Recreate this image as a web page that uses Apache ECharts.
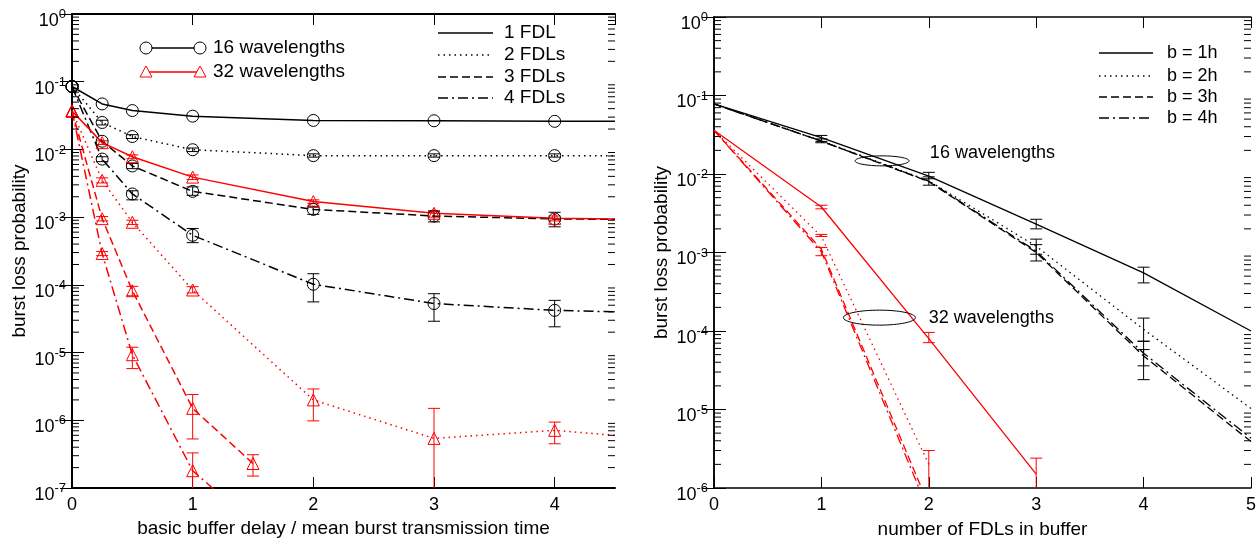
<!DOCTYPE html>
<html><head><meta charset="utf-8">
<script src="https://cdn.jsdelivr.net/npm/echarts@6/dist/echarts.min.js"></script>
<style>html,body{margin:0;padding:0;background:#fff}#c{width:1259px;height:544px}</style>
</head><body><div id="c"></div>
<script>
// ---------------- Left panel data ----------------
const xLeft = [0, 0.25, 0.5, 1, 2, 3, 4, 4.5];
const w16_fdl1 = [0.085, 0.047, 0.0375, 0.031, 0.0268, 0.0265, 0.026, 0.026];
const w16_fdl2 = [0.085, 0.025, 0.0155, 0.0099, 0.0081, 0.0081, 0.0081, 0.0081];
const w16_fdl3 = [0.085, 0.0132, 0.0057, 0.0024, 0.0013, 0.00104, 0.00094, 0.00093];
const w16_fdl4 = [0.085, 0.0072, 0.0022, 0.00054, 0.000102, 0.000053, 0.000042, 0.00004];
const w32_fdl1 = [0.037, 0.0126, 0.0078, 0.0039, 0.0017, 0.00114, 0.00096, 0.00094];
const w32_fdl2 = [0.037, 0.0035, 0.00084, 8.4e-5, 2.0e-6, 5.4e-7, 7.1e-7, 6.0e-7];
const xLeftShort = [0, 0.25, 0.5, 1, 1.5];
const w32_fdl3 = [0.037, 0.00095, 8.2e-5, 1.5e-6, 2.3e-7];
const w32_fdl4 = [0.037, 0.00029, 9.3e-6, 1.8e-7, 3e-8];
// error bars [x, low, high]
const err16Left = [
  [0.25, 0.023, 0.027], [0.5, 0.0145, 0.0165], [1, 0.0093, 0.0105], [2, 0.0077, 0.0086], [3, 0.0077, 0.0086], [4, 0.0077, 0.0086],
  [0.5, 0.0052, 0.0062], [1, 0.0021, 0.0028], [2, 0.0011, 0.00145], [3, 0.00085, 0.0012], [4, 0.00072, 0.00118],
  [0.25, 0.0066, 0.0078], [0.5, 0.0018, 0.00245], [1, 0.00042, 0.00068], [2, 5.6e-5, 1.46e-4], [3, 2.9e-5, 7.4e-5], [4, 2.4e-5, 5.9e-5]
];
const err32Left = [
  [0.25, 0.0118, 0.0134], [0.5, 0.0073, 0.0083], [1, 0.0036, 0.0042], [2, 0.0016, 0.0018], [3, 0.00100, 0.00125], [4, 0.00088, 0.00104],
  [0.25, 0.0032, 0.0038], [0.5, 0.00078, 0.0009], [1, 7.6e-5, 9.4e-5], [2, 9.8e-7, 2.9e-6], [3, 5e-8, 1.5e-6], [4, 4.5e-7, 9.4e-7],
  [0.25, 0.00088, 0.00102], [0.5, 6.9e-5, 9.5e-5], [1, 5.3e-7, 2.4e-6], [1.5, 1.5e-7, 3.1e-7],
  [0.25, 0.00027, 0.00031], [0.5, 5.8e-6, 1.2e-5], [1, 5e-8, 3.3e-7]
];
const xTicksLeft = [0, 1, 2, 3, 4];
const yExpLeft = [-7, -6, -5, -4, -3, -2, -1, 0];

// ---------------- Right panel data ----------------
const xRight = [0, 1, 2, 3, 4, 5];
const w16_b1 = [0.078, 0.029, 0.0094, 0.0023, 0.00055, 0.0001];
const w16_b2 = [0.078, 0.0265, 0.0082, 0.0012, 1.05e-4, 1.03e-5];
const w16_b3 = [0.078, 0.0262, 0.0080, 0.00100, 4.8e-5, 3.9e-6];
const w16_b4 = [0.078, 0.0262, 0.0081, 0.00104, 5.2e-5, 4.3e-6];
const xRight32_b1 = [0, 1, 2, 3];
const w32_b1 = [0.036, 0.0038, 8.0e-5, 1.5e-6];
const xRight32 = [0, 1, 2];
const w32_b2 = [0.036, 0.0016, 2.0e-6];
const w32_b3 = [0.036, 0.0011, 6.0e-7];
const w32_b4 = [0.036, 0.00102, 5.0e-7];
const err16Right = [
  [1, 0.026, 0.031], [1, 0.025, 0.028], [2, 0.0087, 0.0105], [2, 0.0072, 0.0092],
  [3, 0.002, 0.00265], [3, 0.00095, 0.00148], [3, 0.00078, 0.00126],
  [4, 0.00041, 0.00065], [4, 7.4e-5, 1.46e-4], [4, 2.4e-5, 5.8e-5], [4, 3.6e-5, 7.4e-5]
];
const err32Right = [
  [1, 0.0036, 0.0040], [2, 7.1e-5, 9.6e-5], [3, 5e-7, 2.4e-6],
  [1, 0.0016, 0.0017], [2, 5e-7, 3.0e-6],
  [1, 0.00091, 0.00116]
];
const xTicksRight = [0, 1, 2, 3, 4, 5];
const yExpRight = [-6, -5, -4, -3, -2, -1, 0];

// ---------------- styles ----------------
const FONT = "'Liberation Sans', Arial, sans-serif";
const RED = '#ff0000', BLACK = '#000000';
const DOT = [1.5, 4], DASH = [8, 4], DASHDOT = [10, 4, 2, 4];

function toData(xs, ys, sym) {
  return xs.map((x, i) => ({ value: [x, ys[i]], symbol: x > 4 ? 'none' : sym }));
}
function lineSeries(xs, ys, color, dash, sym, xi, yi, lw) {
  return {
    type: 'line', xAxisIndex: xi, yAxisIndex: yi, data: sym ? toData(xs, ys, sym) : xs.map((x, i) => [x, ys[i]]),
    symbol: sym || 'none', symbolSize: 12, showSymbol: !!sym,
    lineStyle: { color: color, width: lw, type: dash },
    itemStyle: { color: 'rgba(255,255,255,0)', borderColor: color, borderWidth: 1 },
    silent: true, animation: false, z: 3
  };
}
function errSeries(data, color, xi, yi, hw) {
  return {
    type: 'custom', xAxisIndex: xi, yAxisIndex: yi, data: data, clip: true, silent: true, animation: false, z: 2,
    dimensions: ['x', 'lo', 'hi'], encode: { x: 0, y: [1, 2] },
    renderItem: function (params, api) {
      const p1 = api.coord([api.value(0), api.value(1)]);
      const p2 = api.coord([api.value(0), api.value(2)]);
      const st = { stroke: color, lineWidth: 1, fill: null };
      return { type: 'group', children: [
        { type: 'line', shape: { x1: p1[0], y1: p1[1], x2: p2[0], y2: p2[1] }, style: st },
        { type: 'line', shape: { x1: p1[0] - hw, y1: p1[1], x2: p1[0] + hw, y2: p1[1] }, style: st },
        { type: 'line', shape: { x1: p2[0] - hw, y1: p2[1], x2: p2[0] + hw, y2: p2[1] }, style: st }
      ] };
    }
  };
}
const richLab = {
  b: { fontSize: 18, fontFamily: FONT, color: '#000', verticalAlign: 'bottom', lineHeight: 22 },
  s: { fontSize: 13, fontFamily: FONT, color: '#000', verticalAlign: 'top', lineHeight: 22 }
};
function yAx(grid, pos, min, show, lw, name, gap) {
  return {
    type: 'log', logBase: 10, gridIndex: grid, position: pos, min: min, max: 1, interval: 1,
    axisLine: { show: true, lineStyle: { color: '#000', width: lw } },
    axisTick: { show: true, inside: true, length: 12, lineStyle: { color: '#000', width: 1 } },
    axisLabel: { show: show, margin: 6, padding: [10, 0, 0, 0], formatter: v => '{b|10}{s|' + Math.round(Math.log10(v)) + '}', rich: richLab },
    splitLine: { show: false }, minorTick: { show: false },
    name: show ? name : '', nameLocation: 'middle', nameGap: gap,
    nameTextStyle: { fontSize: 19, fontFamily: FONT, color: '#000' }
  };
}
function xAx(grid, pos, max, show, lw, name, gap, showMax) {
  return {
    type: 'value', gridIndex: grid, position: pos, min: 0, max: max, interval: 1,
    axisLine: { show: true, onZero: false, lineStyle: { color: '#000', width: lw } },
    axisTick: { show: true, inside: true, length: 11, lineStyle: { color: '#000', width: 1 } },
    axisLabel: { show: show, margin: 8, fontSize: 18, fontFamily: FONT, color: '#000', showMaxLabel: showMax,
      formatter: v => (Math.abs(v - Math.round(v)) < 1e-9 ? String(Math.round(v)) : '') },
    splitLine: { show: false },
    name: show ? name : '', nameLocation: 'middle', nameGap: gap,
    nameTextStyle: { fontSize: 19, fontFamily: FONT, color: '#000' }
  };
}
function annot(x, y, rx, ry, text, tx, ty) {
  return { x: x, y: y, rx: rx, ry: ry, text: text, tx: tx, ty: ty };
}
const annotations = [
  annot(1.565, 0.0147, 27, 5, '16 wavelengths', 2.01, 0.0187),
  annot(1.54, 1.48e-4, 36, 7.5, '32 wavelengths', 2.0, 1.46e-4)
];
const annotSeries = {
  type: 'custom', xAxisIndex: 2, yAxisIndex: 2, silent: true, animation: false, z: 6, clip: false,
  dimensions: ['x', 'y'], encode: { x: 0, y: 1 },
  data: annotations.map(a => [a.x, a.y]),
  renderItem: function (params, api) {
    const a = annotations[params.dataIndex];
    const c = api.coord([a.x, a.y]);
    const t = api.coord([a.tx, a.ty]);
    return { type: 'group', children: [
      { type: 'ellipse', shape: { cx: c[0], cy: c[1], rx: a.rx, ry: a.ry }, style: { stroke: '#000', fill: null, lineWidth: 1 } },
      { type: 'text', x: t[0], y: t[1], style: { text: a.text, font: '18px ' + FONT, fill: '#000', textAlign: 'left', textVerticalAlign: 'middle' } }
    ] };
  }
};

// legends (graphic)
function legLine(x1, x2, y, color, dash, lw) {
  return { type: 'line', shape: { x1: x1, y1: y, x2: x2, y2: y }, style: { stroke: color, lineWidth: lw, lineDash: dash || null } };
}
function legText(x, y, t, size) {
  return { type: 'text', x: x, y: y, style: { text: t, font: size + 'px ' + FONT, fill: '#000', textVerticalAlign: 'middle' } };
}
function circ(cx, cy) { return { type: 'circle', shape: { cx: cx, cy: cy, r: 6 }, style: { stroke: '#000', fill: '#fff', lineWidth: 1 } }; }
function tri(cx, cy) { return { type: 'polygon', shape: { points: [[cx, cy - 6], [cx - 6, cy + 5], [cx + 6, cy + 5]] }, style: { stroke: RED, fill: '#fff', lineWidth: 1 } }; }
const graphics = [
  legLine(146, 200, 48, BLACK, null, 1.5), circ(146, 48), circ(200, 48), legText(213, 48, '16 wavelengths', 19),
  legLine(146, 200, 72, RED, null, 1.5), tri(146, 72), tri(200, 72), legText(213, 72, '32 wavelengths', 19),
  legLine(438, 493, 33, BLACK, null, 1.5), legText(504, 33, '1 FDL', 19),
  legLine(438, 493, 55, BLACK, DOT, 1.5), legText(504, 55, '2 FDLs', 19),
  legLine(438, 493, 77, BLACK, DASH, 1.5), legText(504, 77, '3 FDLs', 19),
  legLine(438, 493, 98, BLACK, DASHDOT, 1.5), legText(504, 98, '4 FDLs', 19),
  legLine(1099, 1153, 53, BLACK, null, 1.3), legText(1167, 53, 'b = 1h', 18),
  legLine(1099, 1153, 76, BLACK, DOT, 1.3), legText(1167, 76, 'b = 2h', 18),
  legLine(1099, 1153, 97, BLACK, DASH, 1.3), legText(1167, 97, 'b = 3h', 18),
  legLine(1099, 1153, 118, BLACK, DASHDOT, 1.3), legText(1167, 118, 'b = 4h', 18)
];

const option = {
  backgroundColor: '#fff',
  animation: false,
  grid: [
    { left: 72, top: 14, width: 543, height: 474 },
    { left: 714, top: 17, width: 538, height: 473 }
  ],
  xAxis: [
    xAx(0, 'bottom', 4.5, true, 2, 'basic buffer delay / mean burst transmission time', 29, false),
    xAx(0, 'top', 4.5, false, 2, '', 0, false),
    xAx(1, 'bottom', 5, true, 1.5, 'number of FDLs in buffer', 32, true),
    xAx(1, 'top', 5, false, 1.5, '', 0, true)
  ],
  yAxis: [
    yAx(0, 'left', 1e-7, true, 2, 'burst loss probability', 43),
    yAx(0, 'right', 1e-7, false, 2, '', 0),
    yAx(1, 'left', 1e-6, true, 1.5, 'burst loss probability', 43),
    yAx(1, 'right', 1e-6, false, 1.5, '', 0)
  ],
  series: [
    errSeries(err16Left, BLACK, 0, 0, 6),
    errSeries(err32Left, RED, 0, 0, 6),
    lineSeries(xLeft, w16_fdl1, BLACK, 'solid', 'circle', 0, 0, 1.5),
    lineSeries(xLeft, w16_fdl2, BLACK, DOT, 'circle', 0, 0, 1.5),
    lineSeries(xLeft, w16_fdl3, BLACK, DASH, 'circle', 0, 0, 1.5),
    lineSeries(xLeft, w16_fdl4, BLACK, DASHDOT, 'circle', 0, 0, 1.5),
    lineSeries(xLeft, w32_fdl1, RED, 'solid', 'triangle', 0, 0, 1.5),
    lineSeries(xLeft, w32_fdl2, RED, DOT, 'triangle', 0, 0, 1.5),
    lineSeries(xLeftShort, w32_fdl3, RED, DASH, 'triangle', 0, 0, 1.5),
    lineSeries(xLeftShort, w32_fdl4, RED, DASHDOT, 'triangle', 0, 0, 1.5),
    errSeries(err16Right, BLACK, 2, 2, 6),
    errSeries(err32Right, RED, 2, 2, 6),
    lineSeries(xRight, w16_b1, BLACK, 'solid', null, 2, 2, 1.3),
    lineSeries(xRight, w16_b2, BLACK, DOT, null, 2, 2, 1.3),
    lineSeries(xRight, w16_b3, BLACK, DASH, null, 2, 2, 1.3),
    lineSeries(xRight, w16_b4, BLACK, DASHDOT, null, 2, 2, 1.3),
    lineSeries(xRight32_b1, w32_b1, RED, 'solid', null, 2, 2, 1.3),
    lineSeries(xRight32, w32_b2, RED, DOT, null, 2, 2, 1.3),
    lineSeries(xRight32, w32_b3, RED, DASH, null, 2, 2, 1.3),
    lineSeries(xRight32, w32_b4, RED, DASHDOT, null, 2, 2, 1.3),
    annotSeries
  ]
};
const chart = echarts.init(document.getElementById('c'), null, { renderer: 'canvas' });
chart.setOption(option);

// minor log ticks (axis decoration) on left and right edges of each panel
function minorTicks(exps, xi, yi, xmin, xmax, len) {
  const out = [];
  const left = chart.convertToPixel({ xAxisIndex: xi, yAxisIndex: yi }, [xmin, 1])[0];
  const right = chart.convertToPixel({ xAxisIndex: xi, yAxisIndex: yi }, [xmax, 1])[0];
  for (let k = 0; k < exps.length - 1; k++) {
    for (let m = 2; m <= 9; m++) {
      const y = chart.convertToPixel({ xAxisIndex: xi, yAxisIndex: yi }, [xmin, m * Math.pow(10, exps[k])])[1];
      const st = { stroke: '#000', lineWidth: 1 };
      out.push({ type: 'line', z: 10, shape: { x1: left, y1: y, x2: left + len, y2: y }, style: st });
      out.push({ type: 'line', z: 10, shape: { x1: right - len, y1: y, x2: right, y2: y }, style: st });
    }
  }
  return out;
}
const minor = minorTicks(yExpLeft, 0, 0, 0, 4.5, 7).concat(minorTicks(yExpRight, 2, 2, 0, 5, 7));
chart.setOption({ graphic: { elements: graphics.concat(minor) } });
</script>
</body></html>
